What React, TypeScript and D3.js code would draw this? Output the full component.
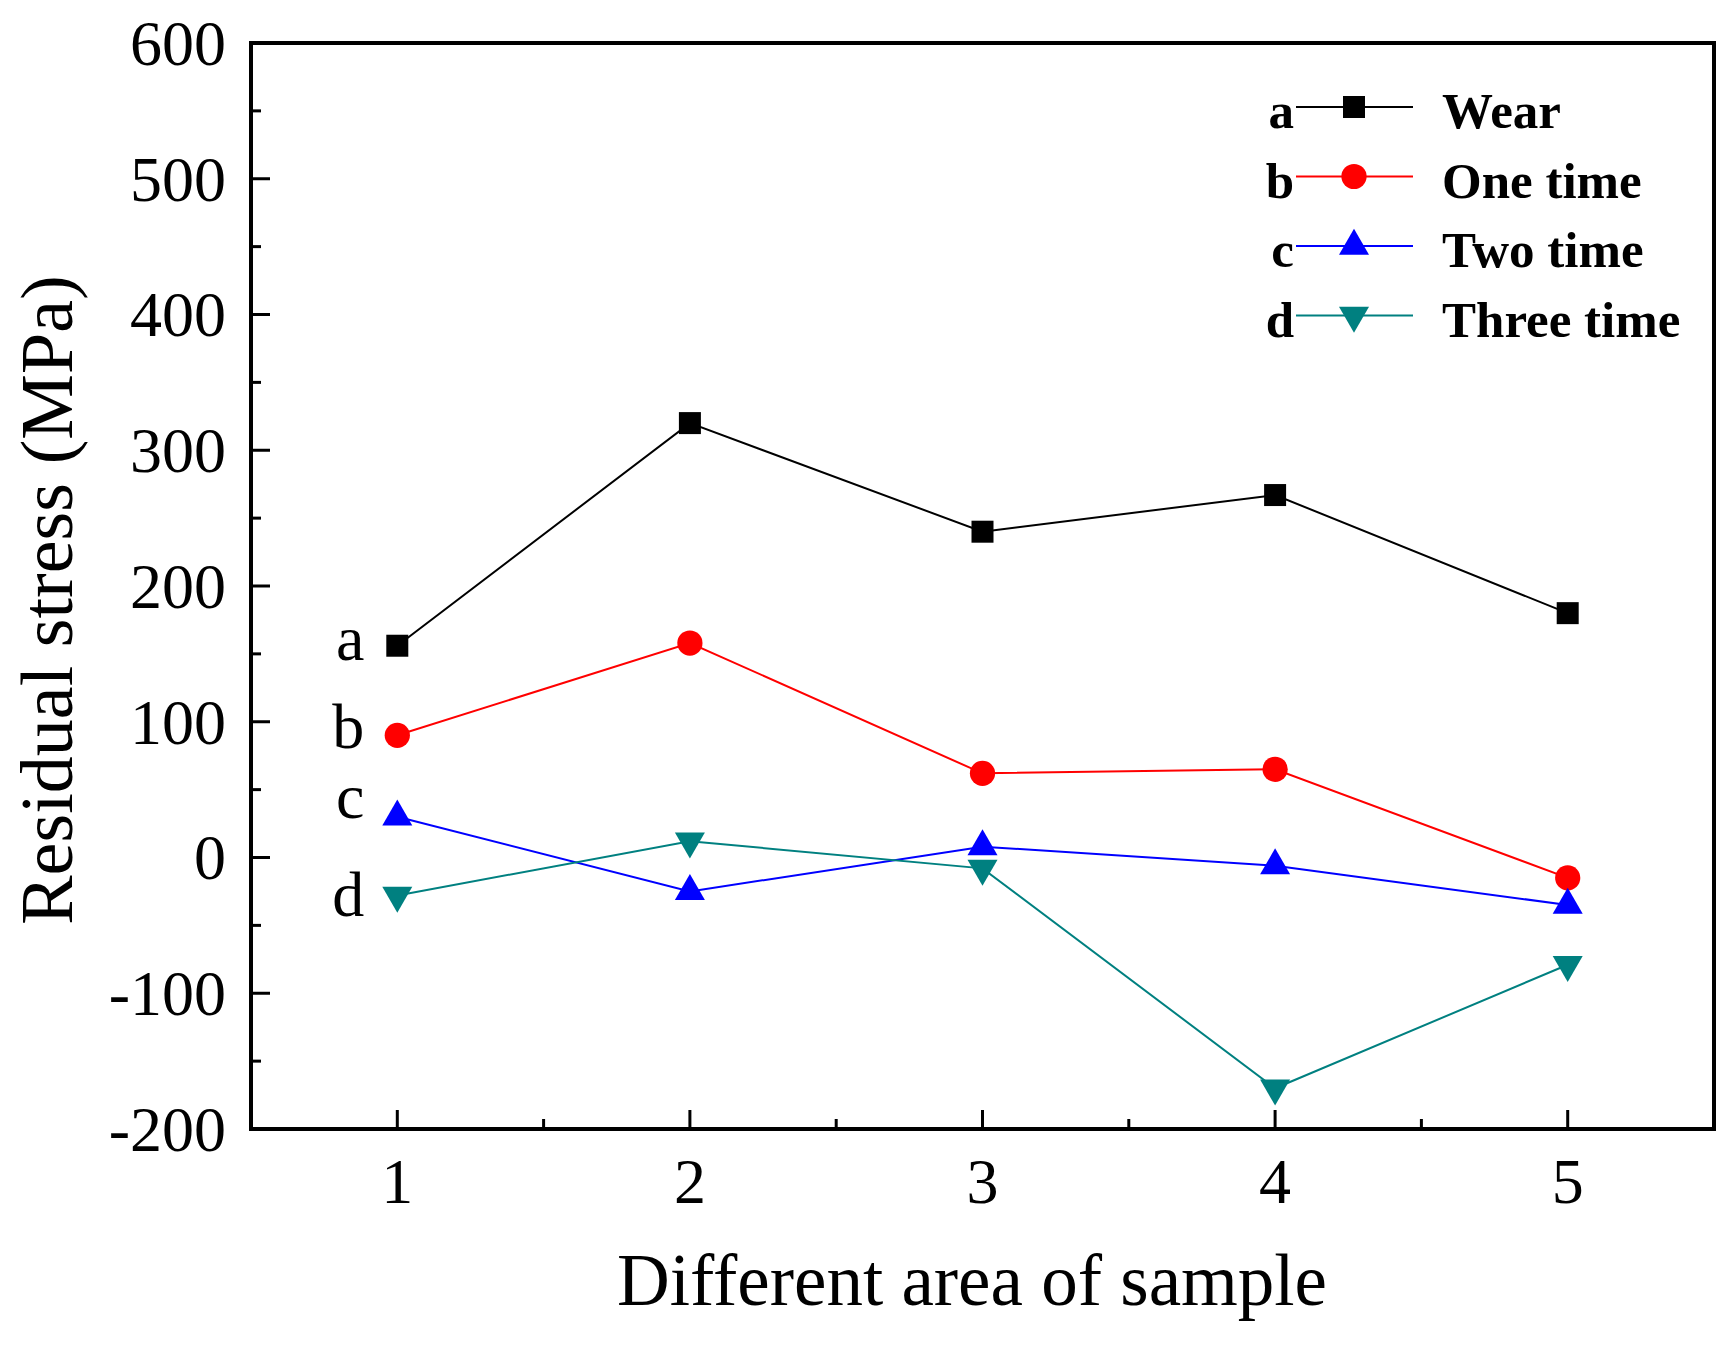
import { useEffect, useRef } from "react"
import * as d3 from "d3"

const areas = [1, 2, 3, 4, 5]
const wear = [156, 320, 240, 267, 180]
const oneTime = [90, 158, 62, 65, -15]
const twoTime = [30, -25, 8, -6, -35]
const threeTime = [-28, 12, -8, -170, -79]
const seriesNames = ["Wear", "One time", "Two time", "Three time"]
const seriesTags = ["a", "b", "c", "d"]
const yTicks = [-200, -100, 0, 100, 200, 300, 400, 500, 600]
const yMinorTicks = [-150, -50, 50, 150, 250, 350, 450, 550]
const xMinorTicks = [1.5, 2.5, 3.5, 4.5]

const FONT = "'Liberation Serif', 'Times New Roman', serif"

export default function App() {
  const svgRef = useRef<SVGSVGElement>(null)

  useEffect(() => {
    if (!svgRef.current) return
    const W = 1734
    const H = 1348
    const margin = { top: 43, right: 20, bottom: 219, left: 251 }
    const width = W - margin.left - margin.right
    const height = H - margin.top - margin.bottom

    d3.select(svgRef.current).selectAll("*").remove()
    const root = d3.select(svgRef.current).attr("width", W).attr("height", H)
    root.append("rect").attr("width", W).attr("height", H).attr("fill", "#fff")

    const svg = root.append("g").attr("transform", `translate(${margin.left},${margin.top})`)

    const x = d3.scaleLinear().domain([0.5, 5.5]).range([0, width])
    const y = d3.scaleLinear().domain([-200, 600]).range([height, 0])

    const series = [
      { name: seriesNames[0], tag: seriesTags[0], values: wear, color: "#000000", symbol: d3.symbolSquare, size: 484, rotate: 0, tagDy: 14 },
      { name: seriesNames[1], tag: seriesTags[1], values: oneTime, color: "#ff0000", symbol: d3.symbolCircle, size: 500, rotate: 0, tagDy: 13 },
      { name: seriesNames[2], tag: seriesTags[2], values: twoTime, color: "#0000ff", symbol: d3.symbolTriangle, size: 390, rotate: 0, tagDy: 1 },
      { name: seriesNames[3], tag: seriesTags[3], values: threeTime, color: "#008080", symbol: d3.symbolTriangle, size: 390, rotate: 180, tagDy: 20 },
    ]

    // ticks (inward)
    const tickG = svg.append("g").attr("stroke", "#000").attr("stroke-width", 3)
    yTicks.forEach((t) => {
      tickG.append("line").attr("x1", 0).attr("x2", 19).attr("y1", y(t)).attr("y2", y(t))
    })
    yMinorTicks.forEach((t) => {
      tickG.append("line").attr("x1", 0).attr("x2", 10).attr("y1", y(t)).attr("y2", y(t))
    })
    areas.forEach((t) => {
      tickG.append("line").attr("x1", x(t)).attr("x2", x(t)).attr("y1", height).attr("y2", height - 19)
    })
    xMinorTicks.forEach((t) => {
      tickG.append("line").attr("x1", x(t)).attr("x2", x(t)).attr("y1", height).attr("y2", height - 10)
    })

    // tick labels
    svg
      .append("g")
      .selectAll("text")
      .data(yTicks)
      .enter()
      .append("text")
      .attr("x", -25)
      .attr("y", (d) => y(d))
      .attr("dy", "0.34em")
      .attr("text-anchor", "end")
      .style("font-family", FONT)
      .style("font-size", "64px")
      .text((d) => String(d))

    svg
      .append("g")
      .selectAll("text")
      .data(areas)
      .enter()
      .append("text")
      .attr("x", (d) => x(d))
      .attr("y", height + 74)
      .attr("text-anchor", "middle")
      .style("font-family", FONT)
      .style("font-size", "64px")
      .text((d) => String(d))

    // axis titles
    svg
      .append("text")
      .attr("transform", `translate(${72 - margin.left},${600 - margin.top}) rotate(-90)`)
      .attr("text-anchor", "middle")
      .style("font-family", FONT)
      .style("font-size", "74px")
      .text("Residual stress (MPa)")

    svg
      .append("text")
      .attr("x", 972 - margin.left)
      .attr("y", height + 176)
      .attr("text-anchor", "middle")
      .style("font-family", FONT)
      .style("font-size", "73px")
      .text("Different area of sample")

    // lines and markers
    const line = d3
      .line<number>()
      .x((_, i) => x(areas[i]))
      .y((d) => y(d))

    series.forEach((s) => {
      svg
        .append("path")
        .datum(s.values)
        .attr("d", line)
        .attr("fill", "none")
        .attr("stroke", s.color)
        .attr("stroke-width", 2)
    })

    series.forEach((s) => {
      const sym = d3.symbol().type(s.symbol).size(s.size)
      svg
        .append("g")
        .selectAll("path")
        .data(s.values)
        .enter()
        .append("path")
        .attr("d", sym() as string)
        .attr("transform", (d, i) => `translate(${x(areas[i])},${y(d)}) rotate(${s.rotate})`)
        .attr("fill", s.color)

      // tag next to first point
      svg
        .append("text")
        .attr("x", x(areas[0]) - 33)
        .attr("y", y(s.values[0]) + s.tagDy)
        .attr("text-anchor", "end")
        .style("font-family", FONT)
        .style("font-size", "64px")
        .text(s.tag)
    })

    // frame
    svg
      .append("rect")
      .attr("width", width)
      .attr("height", height)
      .attr("fill", "none")
      .attr("stroke", "#000")
      .attr("stroke-width", 4)

    // legend
    const legend = root.append("g").attr("transform", "translate(1296,107)")
    series.forEach((s, i) => {
      const row = legend.append("g").attr("transform", `translate(0,${i * 69.5})`)
      row
        .append("text")
        .attr("x", -2)
        .attr("y", 21)
        .attr("text-anchor", "end")
        .style("font-family", FONT)
        .style("font-weight", "bold")
        .style("font-size", "51px")
        .text(s.tag)
      row.append("line").attr("x1", 0).attr("x2", 117).attr("stroke", s.color).attr("stroke-width", 2)
      row
        .append("path")
        .attr("d", d3.symbol().type(s.symbol).size(s.size)() as string)
        .attr("transform", `translate(58,0) rotate(${s.rotate})`)
        .attr("fill", s.color)
      row
        .append("text")
        .attr("x", 146)
        .attr("y", 21)
        .style("font-family", FONT)
        .style("font-weight", "bold")
        .style("font-size", "51px")
        .text(s.name)
    })
  }, [])

  return (
    <div style={{ position: "absolute", left: 0, top: 0 }}>
      <svg ref={svgRef} style={{ display: "block" }} />
    </div>
  )
}
